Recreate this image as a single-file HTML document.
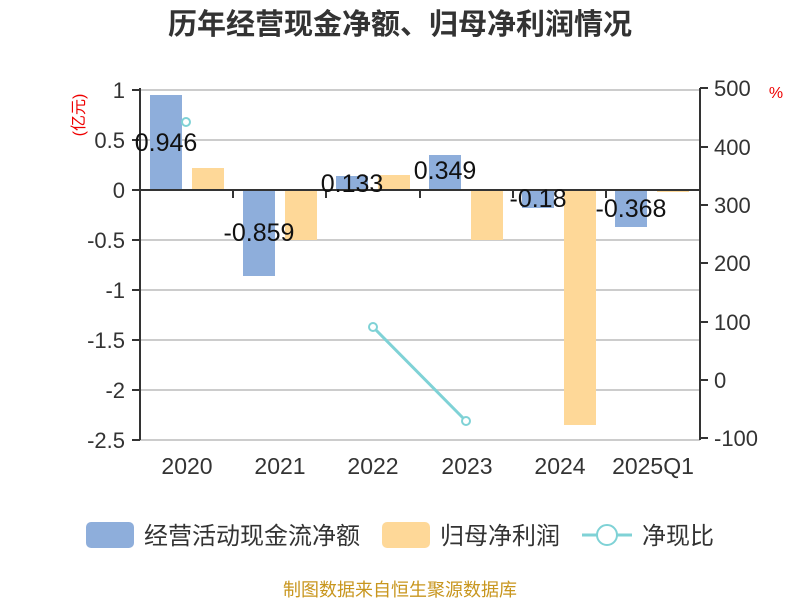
<!DOCTYPE html>
<html><head><meta charset="utf-8"><style>body{margin:0;background:#fff}</style></head><body>
<svg width="800" height="600" xmlns="http://www.w3.org/2000/svg" font-family="'Liberation Sans','Noto Sans CJK SC',sans-serif">
<text x="400" y="34" text-anchor="middle" font-size="29" font-weight="bold" fill="#333">历年经营现金净额、归母净利润情况</text>
<g stroke="#ccc" stroke-width="2">
<line x1="140" x2="700" y1="90" y2="90"/><line x1="140" x2="700" y1="140" y2="140"/>
<line x1="140" x2="700" y1="240" y2="240"/><line x1="140" x2="700" y1="290" y2="290"/>
<line x1="140" x2="700" y1="340" y2="340"/><line x1="140" x2="700" y1="390" y2="390"/>
<line x1="140" x2="700" y1="440" y2="440"/>
</g>
<g fill="#8eaedb">
<rect x="150" y="95" width="32" height="95"/><rect x="243" y="190" width="32" height="86"/>
<rect x="336" y="176" width="32" height="14"/><rect x="429" y="155" width="32" height="35"/>
<rect x="522" y="190" width="32" height="18"/><rect x="615" y="190" width="32" height="37"/>
</g>
<g fill="#fed898">
<rect x="192" y="168" width="32" height="22"/><rect x="285" y="190" width="32" height="50"/>
<rect x="378" y="175" width="32" height="15"/><rect x="471" y="190" width="32" height="50"/>
<rect x="564" y="190" width="32" height="235"/><rect x="657" y="190" width="32" height="2"/>
</g>
<g stroke="#333" stroke-width="2">
<line x1="140" x2="700" y1="190" y2="190"/>
<line x1="140" x2="140" y1="88" y2="440"/><line x1="700" x2="700" y1="88" y2="440"/>
<line x1="233" x2="233" y1="190" y2="198"/><line x1="326" x2="326" y1="190" y2="198"/><line x1="420" x2="420" y1="190" y2="198"/><line x1="513" x2="513" y1="190" y2="198"/><line x1="606" x2="606" y1="190" y2="198"/>
<line x1="132" x2="140" y1="90" y2="90"/><line x1="132" x2="140" y1="140" y2="140"/><line x1="132" x2="140" y1="190" y2="190"/><line x1="132" x2="140" y1="240" y2="240"/><line x1="132" x2="140" y1="290" y2="290"/><line x1="132" x2="140" y1="340" y2="340"/><line x1="132" x2="140" y1="390" y2="390"/><line x1="132" x2="140" y1="440" y2="440"/>
<line x1="700" x2="708" y1="88" y2="88"/><line x1="700" x2="708" y1="147" y2="147"/><line x1="700" x2="708" y1="205" y2="205"/><line x1="700" x2="708" y1="263" y2="263"/><line x1="700" x2="708" y1="322" y2="322"/><line x1="700" x2="708" y1="380" y2="380"/><line x1="700" x2="708" y1="438" y2="438"/>
</g>
<g font-size="22" fill="#333" text-anchor="end">
<text x="125" y="98">1</text><text x="125" y="148">0.5</text><text x="125" y="198">0</text><text x="125" y="248">-0.5</text><text x="125" y="298">-1</text><text x="125" y="348">-1.5</text><text x="125" y="398">-2</text><text x="125" y="448">-2.5</text>
</g>
<g font-size="22" fill="#333">
<text x="714" y="96">500</text><text x="714" y="155">400</text><text x="714" y="213">300</text><text x="714" y="271">200</text><text x="714" y="330">100</text><text x="714" y="388">0</text><text x="714" y="446">-100</text>
</g>
<g font-size="23" fill="#333" text-anchor="middle">
<text x="187" y="474">2020</text><text x="280" y="474">2021</text><text x="373" y="474">2022</text><text x="467" y="474">2023</text><text x="560" y="474">2024</text><text x="653" y="474">2025Q1</text>
</g>
<text transform="translate(84,115) rotate(-90)" font-size="16" fill="#e00" text-anchor="middle">(亿元)</text>
<text x="776" y="98" font-size="16" fill="#e00" text-anchor="middle">%</text>
<g font-size="25" fill="#111" text-anchor="middle">
<text x="166" y="151">0.946</text><text x="259" y="241">-0.859</text><text x="352" y="192">0.133</text><text x="445" y="179">0.349</text><text x="538" y="207">-0.18</text><text x="631" y="217">-0.368</text>
</g>
<line x1="373" y1="327" x2="466" y2="421" stroke="#7fd2d6" stroke-width="3"/>
<g fill="#fff" stroke="#7fd2d6" stroke-width="2">
<circle cx="186" cy="122" r="4"/><circle cx="373" cy="327" r="4"/><circle cx="466" cy="421" r="4"/>
</g>
<rect x="86" y="522" width="48" height="26" rx="5" fill="#8eaedb"/>
<text x="144" y="544" font-size="24" fill="#333">经营活动现金流净额</text>
<rect x="382" y="522" width="48" height="26" rx="5" fill="#fed898"/>
<text x="440" y="544" font-size="24" fill="#333">归母净利润</text>
<line x1="582" x2="632" y1="535" y2="535" stroke="#7fd2d6" stroke-width="3"/>
<circle cx="607" cy="535" r="10" fill="#fff" stroke="#7fd2d6" stroke-width="2"/>
<text x="642" y="544" font-size="24" fill="#333">净现比</text>
<text x="400" y="596" font-size="18" fill="#c8961e" text-anchor="middle">制图数据来自恒生聚源数据库</text>
</svg>
</body></html>
